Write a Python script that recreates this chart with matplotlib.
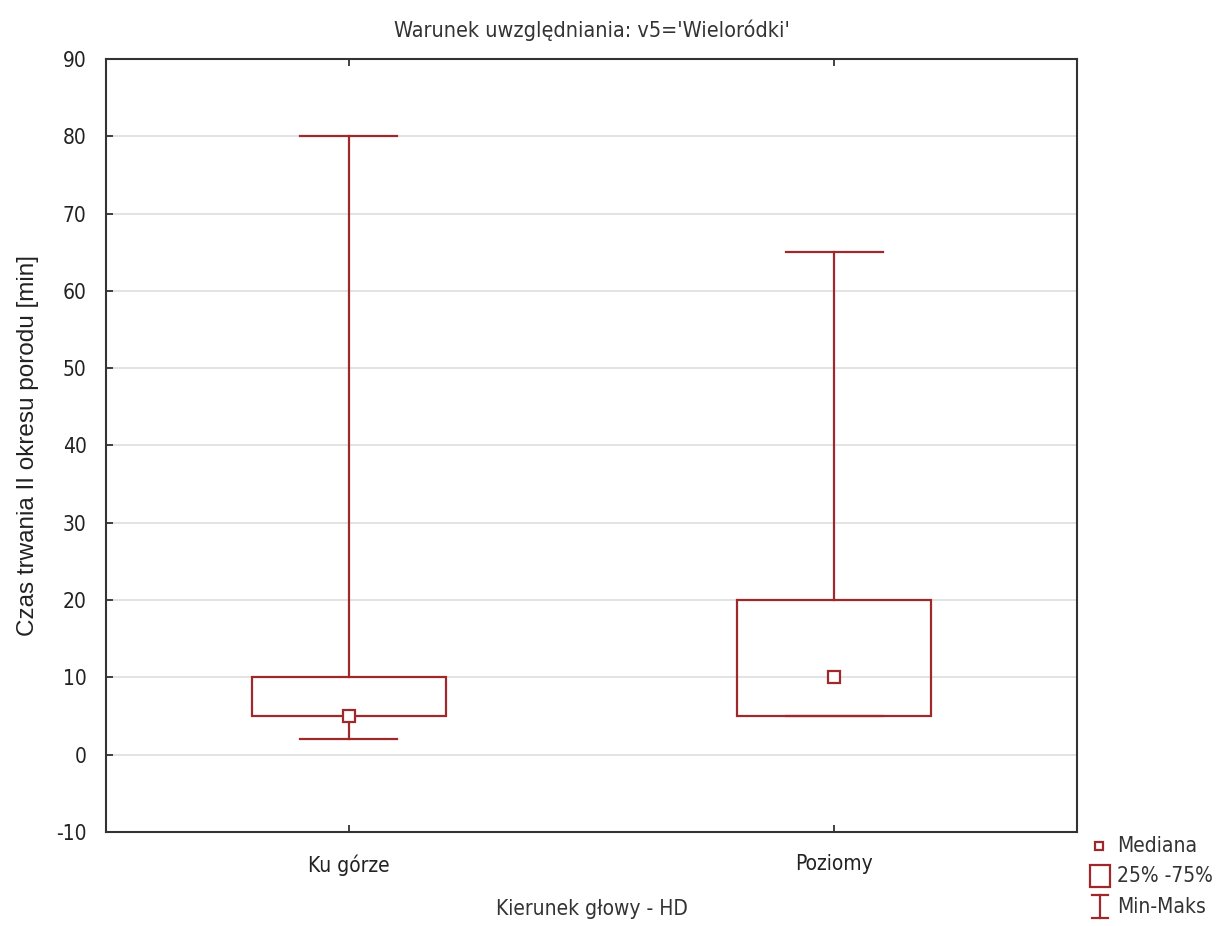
import matplotlib
matplotlib.use("Agg")
import matplotlib.pyplot as plt
from matplotlib import font_manager
from matplotlib.lines import Line2D
from matplotlib.patches import Rectangle

categories = ["Ku górze", "Poziomy"]
mins = [2, 5]
q1 = [5, 5]
medians = [5, 10]
q3 = [10, 20]
maxs = [80, 65]

y_ticks = [-10, 0, 10, 20, 30, 40, 50, 60, 70, 80, 90]

title = "Warunek uwzględniania: v5='Wieloródki'"
x_label = "Kierunek głowy - HD"
y_label = "Czas trwania II okresu porodu [min]"
legend_labels = ["Mediana", "25% -75%", "Min-Maks"]

RED = "#a0282a"
GRID = "#dedede"

available = {f.name for f in font_manager.fontManager.ttflist}
narrow = "Liberation Sans Narrow" if "Liberation Sans Narrow" in available else "DejaVu Sans"
plt.rcParams["font.family"] = [narrow, "DejaVu Sans"]
plt.rcParams["axes.unicode_minus"] = False
stretch = "normal" if narrow == "Liberation Sans Narrow" else "condensed"

fig = plt.figure(figsize=(12.32, 9.26), dpi=100)
ax = fig.add_axes([106 / 1232, 1 - 832 / 926, (1077 - 106) / 1232, (832 - 59) / 926])

positions = [0.5, 1.5]
box_w = 0.4
cap_w = 0.2

for pos, lo, a, m, b, hi in zip(positions, mins, q1, medians, q3, maxs):
    # whiskers
    ax.plot([pos, pos], [b, hi], color=RED, lw=1.6, zorder=3)
    ax.plot([pos, pos], [lo, a], color=RED, lw=1.6, zorder=3)
    ax.plot([pos - cap_w / 2, pos + cap_w / 2], [hi, hi], color=RED, lw=1.6, zorder=3)
    ax.plot([pos - cap_w / 2, pos + cap_w / 2], [lo, lo], color=RED, lw=1.6, zorder=3)
    # box
    ax.add_patch(Rectangle((pos - box_w / 2, a), box_w, b - a, fill=False,
                           edgecolor=RED, lw=1.6, zorder=3))
    # median
    ax.plot([pos], [m], marker="s", ms=8, mfc="white", mec=RED, mew=1.6, zorder=4)

ax.set_xlim(0, 2)
ax.set_ylim(-10, 90)
ax.set_yticks(y_ticks)
ax.set_xticks(positions)
ax.set_xticklabels(categories)
ax.yaxis.grid(True, color=GRID, lw=1.2)
ax.set_axisbelow(True)
ax.tick_params(axis="both", direction="in", length=5, width=1.2, labelsize=15, colors="#222222")
ax.tick_params(axis="x", top=True, pad=16)
ax.tick_params(axis="y", pad=14)
for lbl in ax.get_xticklabels() + ax.get_yticklabels():
    lbl.set_fontstretch(stretch)
for s in ax.spines.values():
    s.set_linewidth(1.5)
    s.set_color("#333333")

ax.set_title(title, fontsize=15.5, color="#333333", pad=16, fontstretch=stretch)
ax.set_xlabel(x_label, fontsize=15, color="#333333", labelpad=17, fontstretch=stretch)
ax.set_ylabel(y_label, fontsize=17.5, color="#222222", labelpad=12,
              family=["Liberation Sans", "DejaVu Sans"])

# legend drawn in pixel-based figure coordinates
W, H = 1232, 926
def fx(x):
    return x / W
def fy(y):
    return 1 - y / H

fig.add_artist(Line2D([fx(1099)], [fy(846)], marker="s", ms=6, mfc="white", mec=RED, mew=1.6))
fig.add_artist(Rectangle((fx(1090), fy(887)), fx(20), 22 / H, fill=False, edgecolor=RED, lw=1.6))
fig.add_artist(Line2D([fx(1100), fx(1100)], [fy(895), fy(918)], color=RED, lw=1.6))
fig.add_artist(Line2D([fx(1092), fx(1108)], [fy(895), fy(895)], color=RED, lw=1.6))
fig.add_artist(Line2D([fx(1092), fx(1108)], [fy(918), fy(918)], color=RED, lw=1.6))
for lab, yy in zip(legend_labels, [846, 876, 907]):
    fig.text(fx(1117), fy(yy), lab, fontsize=15, color="#333333", va="center", ha="left",
             fontstretch=stretch)

fig.savefig("out.png", dpi=100, facecolor="white")
